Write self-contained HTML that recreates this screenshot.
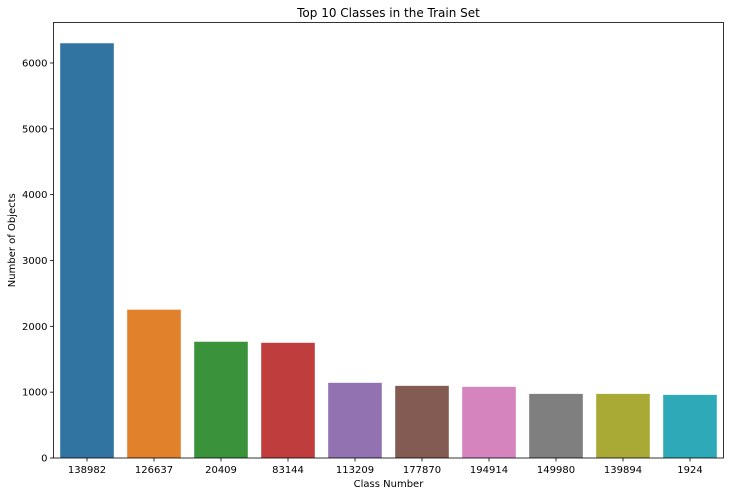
<!DOCTYPE html>
<html><head><meta charset="utf-8"><style>
body{margin:0;background:#fff;font-family:"Liberation Sans","DejaVu Sans",sans-serif;}
svg text{font-family:"DejaVu Sans","Liberation Sans",sans-serif;fill:#000;}
</style></head><body>
<svg id="chart" width="730" height="496" viewBox="0 0 730 496"></svg>
<script>
const categories=["138982","126637","20409","83144","113209","177870","194914","149980","139894","1924"];
const values=[6300,2253,1766,1750,1142,1096,1081,974,974,959];
const yTicks=[0,1000,2000,3000,4000,5000,6000];
const colors=["#3274a1","#e1812c","#3a923a","#c03d3e","#9372b2","#845b53","#d684bd","#7f7f7f","#a9aa35","#2ea9b7"];
const svg=document.getElementById('chart');
const NS='http://www.w3.org/2000/svg';
const L=53.5,R=723.5,T=22.5,B=458;
const yMax=6615;
function y(v){return B-(v/yMax)*(B-T);}
const bw=(R-L)/categories.length;
function x(i){return L+bw*i;}
function mk(t,a){const e=document.createElementNS(NS,t);for(const k in a)e.setAttribute(k,a[k]);svg.appendChild(e);return e;}
categories.forEach((c,i)=>{
  const r=mk('rect',{x:x(i)+bw*0.1,y:y(values[i]),width:bw*0.8,height:B-y(values[i]),fill:colors[i]});
  
  
  const tk=mk('line',{x1:x(i)+bw/2,x2:x(i)+bw/2,y1:B,y2:B+3.5,stroke:'#000','stroke-width':0.8});
  
  
  const t=mk('text',{x:x(i)+bw/2,y:B+15,'text-anchor':'middle','font-size':10});
  t.textContent=c;
  
  
});
yTicks.forEach(v=>{
  const tk=mk('line',{x1:L-3.5,x2:L,y1:y(v),y2:y(v),stroke:'#000','stroke-width':0.8});
  
  
  const t=mk('text',{x:L-6,y:y(v)+3.5,'text-anchor':'end','font-size':10});
  t.textContent=v;
  
  
});
const fr=mk('rect',{x:L,y:T,width:R-L,height:B-T,fill:'none',stroke:'#000','stroke-width':0.8});


const ti=mk('text',{x:(L+R)/2,y:17,'text-anchor':'middle','font-size':12});
ti.textContent='Top 10 Classes in the Train Set';


const xt=mk('text',{x:(L+R)/2,y:487,'text-anchor':'middle','font-size':10});
xt.textContent='Class Number';


const yt=mk('text',{x:15,y:(T+B)/2,'text-anchor':'middle','font-size':10,transform:'rotate(-90 15 '+((T+B)/2)+')'});
yt.textContent='Number of Objects';


</script>
</body></html>
